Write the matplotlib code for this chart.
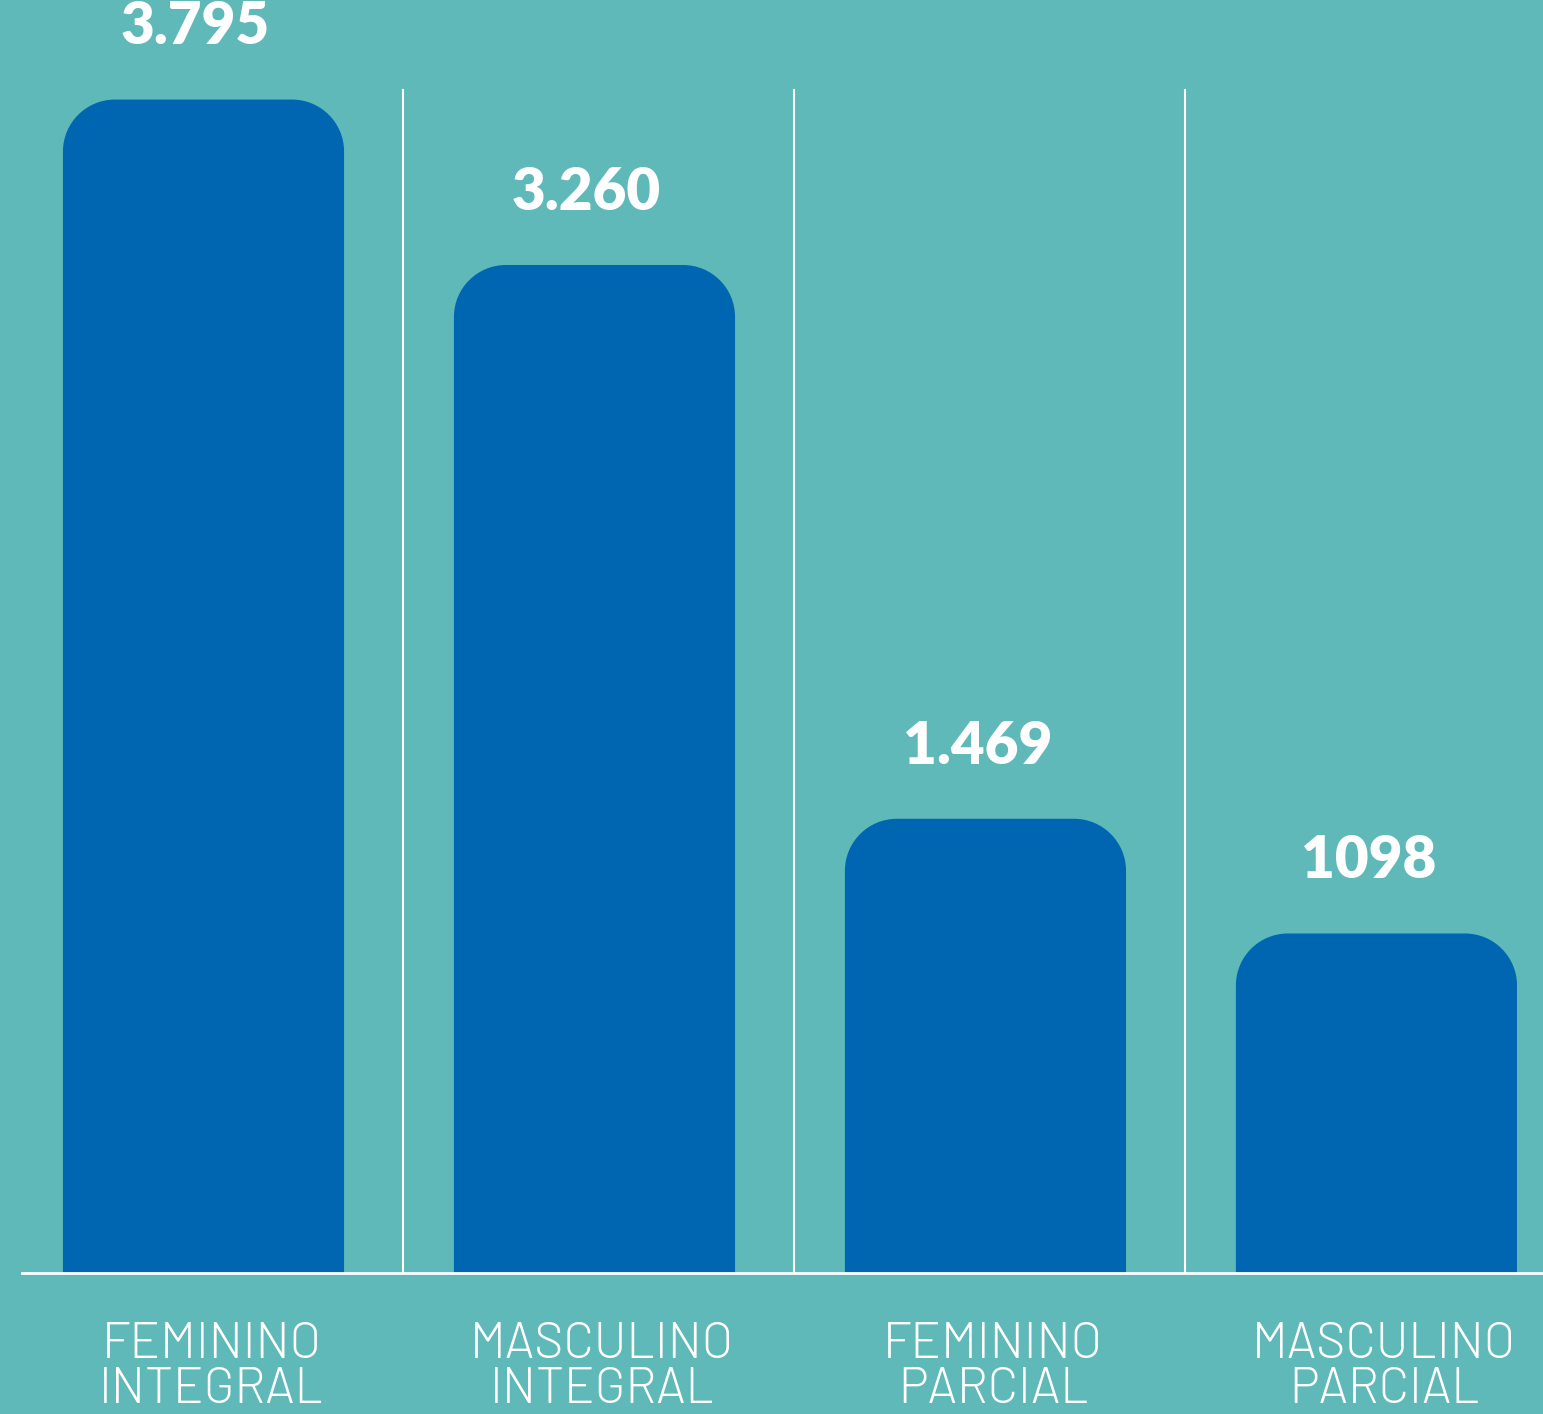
import matplotlib
matplotlib.use('Agg')
import matplotlib.pyplot as plt
from matplotlib.path import Path
from matplotlib.patches import PathPatch

# dados
categorias = ['FEMININO\nINTEGRAL', 'MASCULINO\nINTEGRAL', 'FEMININO\nPARCIAL', 'MASCULINO\nPARCIAL']
valores = [3795, 3260, 1469, 1098]
rotulos = ['3.795', '3.260', '1.469', '1098']

fundo = '#5fb9b8'
azul = '#0066b2'

fig = plt.figure(figsize=(15.43, 14.14), dpi=100)
fig.patch.set_facecolor(fundo)
ax = fig.add_axes([0, 0, 1, 1])
ax.set_facecolor(fundo)
ax.set_xlim(-0.5205, 3.426)
ax.set_ylim(-456, 4117)
ax.axis('off')

largura = 0.719
rx, ry = 0.133, 168  # raio do canto (em unidades de dados)
k = 0.5523


def barra_arredondada(x, h):
    x0, x1 = x - largura / 2, x + largura / 2
    verts = [
        (x0, 0), (x0, h - ry),
        (x0, h - ry + k * ry), (x0 + rx - k * rx, h), (x0 + rx, h),
        (x1 - rx, h),
        (x1 - rx + k * rx, h), (x1, h - ry + k * ry), (x1, h - ry),
        (x1, 0), (x0, 0),
    ]
    codes = [Path.MOVETO, Path.LINETO,
             Path.CURVE4, Path.CURVE4, Path.CURVE4,
             Path.LINETO,
             Path.CURVE4, Path.CURVE4, Path.CURVE4,
             Path.LINETO, Path.CLOSEPOLY]
    ax.add_patch(PathPatch(Path(verts, codes), facecolor=azul, edgecolor='none', zorder=2))


for i, v in enumerate(valores):
    barra_arredondada(i, v)
    ax.text(i - 0.02, v + 235, rotulos[i], ha='center', va='center', color='white',
            fontsize=42, fontweight=800, family='Lato')
    ax.text(i + 0.02, -305, categorias[i], ha='center', va='center', color='white',
            fontsize=36, fontweight=300, family=['Barlow', 'Barlow Semi Condensed', 'DejaVu Sans'],
            linespacing=0.98)

# divisórias
for i in range(len(valores) - 1):
    ax.axvline(i + 0.51, ymin=141 / 1414, ymax=(1414 - 90) / 1414, color='white', lw=1.5, zorder=1)

ax.axhline(0, xmin=22 / 1543, xmax=1, color='white', lw=2, zorder=3)

plt.savefig('out.png', dpi=100, facecolor=fundo)
